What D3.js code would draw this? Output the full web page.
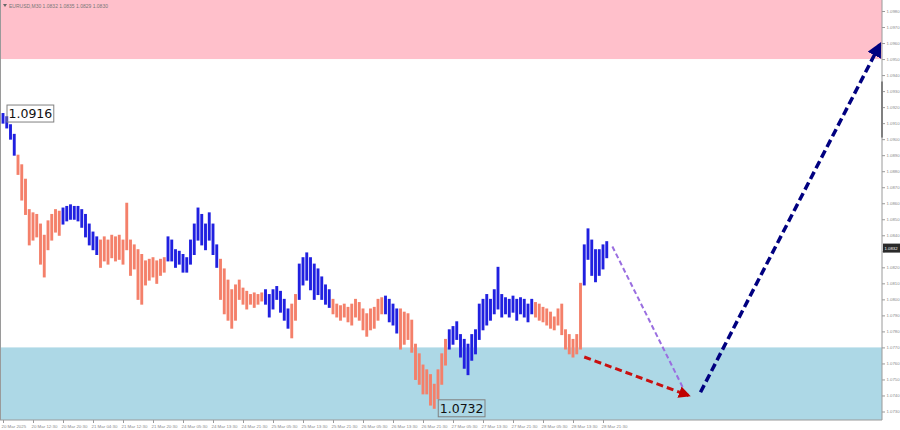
<!DOCTYPE html>
<html><head><meta charset="utf-8">
<script src="https://cdn.jsdelivr.net/npm/d3@7/dist/d3.min.js"></script>
<style>html,body{margin:0;padding:0;background:#fff;overflow:hidden}</style>
</head><body>
<script>
// ---- data (EURUSD M30; one entry per hour) ----
const highs = [1.0916,1.0914,1.0909,1.0903,1.0890,1.0884,1.0875,1.0856,1.0854,1.0853,
1.0847,1.0840,1.0849,1.0853,1.0856,1.0855,1.0857,1.0858,1.0859,1.0858,
1.0858,1.0856,1.0853,1.0847,1.0842,1.0839,1.0837,1.0839,1.0837,1.0840,
1.0839,1.0840,1.0837,1.0860,1.0837,1.0834,1.0831,1.0828,1.0824,1.0825,
1.0826,1.0824,1.0825,1.0826,1.0839,1.0837,1.0831,1.0830,1.0828,1.0826,
1.0837,1.0847,1.0857,1.0853,1.0847,1.0854,1.0847,1.0834,1.0825,1.0819,
1.0812,1.0806,1.0809,1.0812,1.0807,1.0805,1.0803,1.0804,1.0803,1.0804,
1.0806,1.0803,1.0806,1.0808,1.0805,1.0800,1.0794,1.0797,1.0803,1.0822,
1.0826,1.0829,1.0826,1.0822,1.0819,1.0814,1.0809,1.0806,1.0800,1.0797,
1.0796,1.0797,1.0795,1.0797,1.0800,1.0798,1.0794,1.0791,1.0794,1.0795,
1.0800,1.0801,1.0802,1.0800,1.0797,1.0794,1.0794,1.0792,1.0791,1.0787,
1.0772,1.0766,1.0759,1.0756,1.0753,1.0747,1.0756,1.0766,1.0775,1.0781,
1.0783,1.0786,1.0778,1.0775,1.0772,1.0778,1.0781,1.0797,1.0800,1.0803,
1.0800,1.0806,1.0820,1.0803,1.0801,1.0800,1.0802,1.0800,1.0801,1.0800,
1.0797,1.0800,1.0798,1.0797,1.0795,1.0794,1.0792,1.0789,1.0794,1.0797,
1.0781,1.0778,1.0775,1.0778,1.0810,1.0834,1.0844,1.0837,1.0831,1.0831,
1.0834,1.0836];
const lows = [1.0910,1.0907,1.0900,1.0890,1.0878,1.0862,1.0853,1.0834,1.0837,1.0839,
1.0822,1.0814,1.0831,1.0837,1.0842,1.0840,1.0847,1.0849,1.0850,1.0850,
1.0849,1.0845,1.0839,1.0834,1.0831,1.0828,1.0820,1.0824,1.0822,1.0826,
1.0824,1.0825,1.0822,1.0831,1.0815,1.0819,1.0800,1.0797,1.0809,1.0812,
1.0814,1.0810,1.0815,1.0817,1.0824,1.0824,1.0820,1.0822,1.0817,1.0817,
1.0822,1.0828,1.0837,1.0834,1.0831,1.0837,1.0828,1.0820,1.0800,1.0791,
1.0787,1.0782,1.0787,1.0800,1.0797,1.0794,1.0797,1.0795,1.0797,1.0799,
1.0797,1.0789,1.0794,1.0800,1.0792,1.0787,1.0782,1.0776,1.0787,1.0800,
1.0809,1.0812,1.0806,1.0800,1.0803,1.0800,1.0797,1.0795,1.0791,1.0789,
1.0787,1.0789,1.0786,1.0784,1.0789,1.0787,1.0781,1.0777,1.0781,1.0782,
1.0787,1.0791,1.0791,1.0786,1.0784,1.0779,1.0769,1.0772,1.0775,1.0767,
1.0750,1.0747,1.0741,1.0741,1.0734,1.0732,1.0738,1.0747,1.0759,1.0769,
1.0772,1.0775,1.0764,1.0757,1.0753,1.0762,1.0766,1.0775,1.0781,1.0784,
1.0787,1.0791,1.0794,1.0789,1.0791,1.0789,1.0792,1.0787,1.0791,1.0789,
1.0786,1.0791,1.0789,1.0787,1.0786,1.0784,1.0782,1.0781,1.0784,1.0778,
1.0769,1.0766,1.0764,1.0766,1.0769,1.0809,1.0825,1.0815,1.0811,1.0815,
1.0819,1.0826];
// first bar of each wave segment; segments alternate blue / coral
const waveStarts = [0,4,16,26,44,58,70,77,79,88,102,106,119,142,155];
const timeLabels = ["20 Mar 2025","20 Mar 12:30","20 Mar 20:30","21 Mar 04:30","21 Mar 12:30",
"21 Mar 20:30","24 Mar 05:30","24 Mar 13:30","24 Mar 21:30","25 Mar 05:30","25 Mar 13:30",
"25 Mar 21:30","26 Mar 05:30","26 Mar 13:30","26 Mar 21:30","27 Mar 05:30","27 Mar 13:30",
"27 Mar 21:30","28 Mar 05:30","28 Mar 13:30","28 Mar 21:30"];
const priceTicks = d3.range(0,26).map(k => +(1.0730 + k*0.001).toFixed(4));
const resistanceZone = [1.0950, 1.0990];
const supportZone = [1.0720, 1.0770];
const extremeLabels = [{bar:0, price:1.0916, text:"1.0916"},{bar:115, price:1.0732, text:"1.0732"}];
const forecast = [
  {from:[162.5,1.0833], to:[181.5,1.0744], kind:"b"},
  {from:[155,1.0764], to:[182.8,1.0740], kind:"c"},
  {from:[186,1.0742], to:[233.8,1.0959], kind:"next"}
];
const title = "EURUSD,M30  1.0832 1.0835 1.0829 1.0830";
const lastPrice = 1.0832;

// ---- drawing ----
const W=900,H=430, plotR=882, plotB=420;
const svg = d3.select("body").append("svg").attr("width",W).attr("height",H)
  .style("font-family","'Liberation Sans', Arial, sans-serif");
const x = d3.scaleLinear().domain([0,160]).range([3,603]);
const y = d3.scaleLinear().domain([1.0730,1.0980]).range([411.5,11]);
const clamp = v => Math.max(0, Math.min(plotB, v));

svg.append("clipPath").attr("id","plot").append("rect").attr("x",0).attr("y",0).attr("width",plotR).attr("height",plotB);
const g = svg.append("g").attr("clip-path","url(#plot)");

// zones
[[resistanceZone,"#ffc0cb"],[supportZone,"#add8e6"]].forEach(([z,c])=>{
  const y0 = clamp(y(z[1])), y1 = clamp(y(z[0]));
  g.append("rect").attr("x",0).attr("y",y0).attr("width",plotR).attr("height",y1-y0).attr("fill",c);
});

// bars
const waveOf = i => { let w=0; waveStarts.forEach((s,k)=>{ if(i>=s) w=k; }); return w; };
const colors = ["#2020e0","#f4806a"];
g.selectAll("line.bar").data(highs.map((h,i)=>({i,h,l:lows[i]}))).join("line")
  .attr("class","bar")
  .attr("x1",d=>x(d.i)).attr("x2",d=>x(d.i))
  .attr("y1",d=>y(d.h)-0.5).attr("y2",d=>y(d.l)+0.5)
  .attr("stroke",d=>colors[waveOf(d.i)%2]).attr("stroke-width",2.9);

// forecast arrows
const defs = svg.append("defs");
function marker(id,color,size){
  defs.append("marker").attr("id",id).attr("viewBox","0 0 10 10").attr("refX",8).attr("refY",5)
    .attr("markerWidth",size).attr("markerHeight",size).attr("markerUnits","userSpaceOnUse").attr("orient","auto")
    .append("path").attr("d","M0,0 L10,5 L0,10 z").attr("fill",color);
}
marker("mRed","#c00000",12);
marker("mNavy","#000080",15);
const fstyle = {b:{c:"#9a6ee0",w:2,dash:"5,3",m:null}, c:{c:"#c81010",w:3,dash:"7,4",m:"mRed"}, next:{c:"#000080",w:3.5,dash:"8,4",m:"mNavy"}};
forecast.forEach(f=>{
  const s=fstyle[f.kind];
  const ln = svg.append("line").attr("x1",x(f.from[0])).attr("y1",y(f.from[1]))
    .attr("x2",x(f.to[0])).attr("y2",y(f.to[1])).attr("stroke",s.c).attr("stroke-width",s.w)
    .attr("stroke-dasharray",s.dash);
  if(s.m) ln.attr("marker-end",`url(#${s.m})`);
});

// extreme labels
extremeLabels.forEach(e=>{
  const gx = x(e.bar)+4, gy = y(e.price);
  const t = svg.append("text").attr("x",gx+1.5).attr("y",gy).attr("dy","0.36em")
    .attr("font-family","'DejaVu Sans', sans-serif").attr("font-size",12.5).attr("fill","#111").text(e.text);
  const bb = t.node().getBBox();
  svg.insert("rect","text").attr("x",bb.x-1.5).attr("y",gy-8.5).attr("width",bb.width+3).attr("height",17)
    .attr("fill","none").attr("stroke","#808080").attr("stroke-width",1);
});

// axes (tick label under the last-price box is hidden, as in the terminal)
const yAxis = svg.append("g").attr("transform",`translate(${plotR},0)`)
  .call(d3.axisRight(y).tickValues(priceTicks).tickFormat(d3.format(".4f")).tickSize(3).tickPadding(1.5));
yAxis.select(".domain").attr("stroke","#9a9a9a").attr("d",`M0,0V${plotB}`);
yAxis.selectAll(".tick line").attr("stroke","#9a9a9a");
yAxis.selectAll("text").attr("font-size",4.3).attr("fill","#8a8a8a");
yAxis.selectAll(".tick").filter(d=>Math.abs(y(d)-y(lastPrice))<6).select("text").remove();

const xAxis = svg.append("g").attr("transform",`translate(0,${plotB})`)
  .call(d3.axisBottom(x).tickValues(d3.range(0,161,8)).tickFormat((d,i)=>timeLabels[i]).tickSize(3).tickPadding(2));
xAxis.select(".domain").attr("stroke","#9a9a9a").attr("d",`M0,0H${plotR}`);
xAxis.selectAll(".tick line").attr("stroke","#9a9a9a");
xAxis.selectAll("text").attr("font-size",4.4).attr("fill","#8a8a8a").attr("text-anchor","start").attr("dx",-2);

// left border
svg.append("line").attr("x1",0.5).attr("x2",0.5).attr("y1",0).attr("y2",plotB).attr("stroke","#9a9a9a");
// scroll marker on price scale
svg.append("rect").attr("x",plotR-1).attr("y",y(1.0936)).attr("width",2).attr("height",y(1.0901)-y(1.0936)).attr("fill","#808080");

// last price box
svg.append("rect").attr("x",plotR+1).attr("y",y(lastPrice)-4.5).attr("width",17).attr("height",9).attr("fill","#2a2a2a");
svg.append("text").attr("x",plotR+2.5).attr("y",y(lastPrice)).attr("dy","0.35em").attr("font-size",4.3).attr("fill","#fff").text(lastPrice.toFixed(4));

// title
svg.append("path").attr("d","M3,4 L7,4 L5,7 z").attr("fill","#666");
svg.append("text").attr("x",9).attr("y",6).attr("dy","0.35em").attr("font-size",5).attr("fill","#777").text(title);
</script>
</body></html>
